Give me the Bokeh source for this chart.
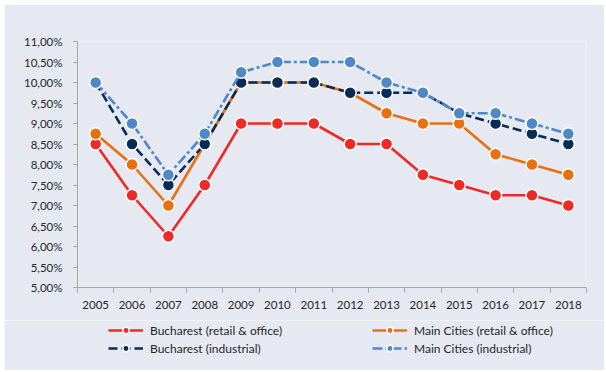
from bokeh.plotting import figure
from bokeh.layouts import column
from bokeh.models import FixedTicker, Legend, LegendItem, ColumnDataSource, Range1d
from bokeh.embed import file_html
from bokeh.resources import INLINE

years = ["2005", "2006", "2007", "2008", "2009", "2010", "2011", "2012", "2013",
         "2014", "2015", "2016", "2017", "2018"]
buc_retail = [8.5, 7.25, 6.25, 7.5, 9.0, 9.0, 9.0, 8.5, 8.5, 7.75, 7.5, 7.25, 7.25, 7.0]
main_retail = [8.75, 8.0, 7.0, 8.5, 10.0, 10.0, 10.0, 9.75, 9.25, 9.0, 9.0, 8.25, 8.0, 7.75]
buc_ind = [10.0, 8.5, 7.5, 8.5, 10.0, 10.0, 10.0, 9.75, 9.75, 9.75, 9.25, 9.0, 8.75, 8.5]
main_ind = [10.0, 9.0, 7.75, 8.75, 10.25, 10.5, 10.5, 10.5, 10.0, 9.75, 9.25, 9.25, 9.0, 8.75]
y_ticks = [5.0, 5.5, 6.0, 6.5, 7.0, 7.5, 8.0, 8.5, 9.0, 9.5, 10.0, 10.5, 11.0]
y_labels = ["5,00%", "5,50%", "6,00%", "6,50%", "7,00%", "7,50%", "8,00%", "8,50%",
            "9,00%", "9,50%", "10,00%", "10,50%", "11,00%"]
series_names = ["Bucharest (retail & office)", "Main Cities (retail & office)",
                "Bucharest (industrial)", "Main Cities (industrial)"]

BG = "#E6E9F2"
FONT = "Lato"

xs = [i + 0.5 for i in range(len(years))]

p = figure(width=600, height=316, output_backend="svg", toolbar_location=None,
           x_range=Range1d(0, len(years)), y_range=Range1d(5, 11),
           min_border_left=73, min_border_right=18, min_border_top=37, min_border_bottom=33)
p.margin = (4, 0, 0, 4)
p.background_fill_color = BG
p.border_fill_color = BG
p.outline_line_color = None
p.xgrid.visible = False
p.ygrid.visible = False

# x axis: labels at category centres, ticks at boundaries
p.xaxis.ticker = FixedTicker(ticks=xs, minor_ticks=list(range(len(years) + 1)))
p.xaxis.major_label_overrides = {x: y for x, y in zip(xs, years)}
p.xaxis.major_tick_out = 0
p.xaxis.major_tick_in = 0
p.xaxis.minor_tick_out = 5
p.xaxis.minor_tick_in = 0
p.xaxis.minor_tick_line_color = "#A6A6A6"
p.xaxis.axis_line_color = "#A6A6A6"
p.xaxis.major_label_standoff = 8

p.yaxis.ticker = FixedTicker(ticks=y_ticks)
p.yaxis.major_label_overrides = {t: l for t, l in zip(y_ticks, y_labels)}
p.yaxis.major_tick_out = 4
p.yaxis.major_tick_in = 0
p.yaxis.minor_tick_line_color = None
p.yaxis.axis_line_color = "#A6A6A6"
p.yaxis.major_tick_line_color = "#A6A6A6"
p.yaxis.major_label_standoff = 11

for ax in (p.xaxis, p.yaxis):
    ax.major_label_text_font = FONT
    ax.major_label_text_font_size = "11.5px"
    ax.major_label_text_color = "#262626"

colors = ["#EE2A24", "#E8700E", "#0A2B55", "#4E88C6"]
dashes = ["solid", "solid", "9 4", "10 3 3 3"]
data = [buc_retail, main_retail, buc_ind, main_ind]

# legend strip below the chart (its proxy renderers sit outside its visible ranges)
q = figure(width=600, height=50, output_backend="svg", toolbar_location=None,
           x_range=Range1d(100, 101), y_range=Range1d(100, 101),
           x_axis_location=None, y_axis_location=None,
           min_border_left=0, min_border_right=0, min_border_top=0, min_border_bottom=0)
q.frame_align = False
q.margin = (0, 0, 0, 4)
q.background_fill_color = BG
q.border_fill_color = BG
q.outline_line_color = None
q.grid.visible = False

items = []
for name, vals, c, d in zip(series_names, data, colors, dashes):
    src = ColumnDataSource(dict(x=xs, y=vals))
    p.line("x", "y", source=src, line_color=c, line_width=2.6, line_dash=d)
    p.scatter("x", "y", source=src, size=12, fill_color=c, line_color="white",
              line_width=1.5)
    ln = q.line("x", "y", source=src, line_color=c, line_width=2.6, line_dash=d)
    sc = q.scatter("x", "y", source=src, size=12, fill_color=c, line_color="white",
                   line_width=1.5)
    items.append(LegendItem(label=name, renderers=[ln, sc]))

def make_legend(its, x):
    lg = Legend(items=its, location=(x, 14), orientation="vertical")
    lg.background_fill_alpha = 0
    lg.border_line_color = None
    lg.padding = 0
    lg.margin = 0
    lg.spacing = 2
    lg.glyph_width = 35
    lg.glyph_height = 16
    lg.label_height = 16
    lg.label_standoff = 7
    lg.label_text_font = FONT
    lg.label_text_font_size = "12px"
    lg.label_text_color = "#262626"
    return lg

q.add_layout(make_legend([items[0], items[2]], 104), "center")
q.add_layout(make_legend([items[1], items[3]], 368), "center")

layout = column(p, q, spacing=0)
open("out.html", "w").write(file_html(layout, INLINE))
